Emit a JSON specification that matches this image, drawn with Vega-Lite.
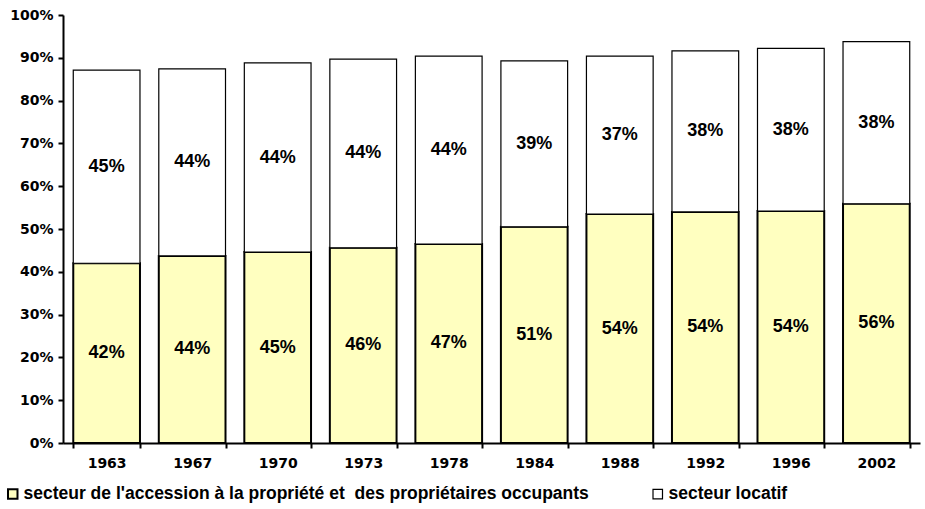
{
  "$schema": "https://vega.github.io/schema/vega-lite/v6.json",
  "width": 857,
  "height": 428,
  "autosize": {"type": "none"},
  "padding": {"left": 63, "top": 15, "right": 5, "bottom": 66},
  "background": "white",
  "config": {
    "font": "Liberation Sans",
    "view": {"stroke": null}
  },
  "data": {
    "values": [
      {"year": "1963", "type": "secteur de l'accession à la propriété et \u00a0des propriétaires occupants", "ord": 1, "value": 0.420},
      {"year": "1963", "type": "secteur locatif", "ord": 2, "value": 0.451},
      {"year": "1967", "type": "secteur de l'accession à la propriété et \u00a0des propriétaires occupants", "ord": 1, "value": 0.437},
      {"year": "1967", "type": "secteur locatif", "ord": 2, "value": 0.437},
      {"year": "1970", "type": "secteur de l'accession à la propriété et \u00a0des propriétaires occupants", "ord": 1, "value": 0.446},
      {"year": "1970", "type": "secteur locatif", "ord": 2, "value": 0.442},
      {"year": "1973", "type": "secteur de l'accession à la propriété et \u00a0des propriétaires occupants", "ord": 1, "value": 0.456},
      {"year": "1973", "type": "secteur locatif", "ord": 2, "value": 0.441},
      {"year": "1978", "type": "secteur de l'accession à la propriété et \u00a0des propriétaires occupants", "ord": 1, "value": 0.465},
      {"year": "1978", "type": "secteur locatif", "ord": 2, "value": 0.439},
      {"year": "1984", "type": "secteur de l'accession à la propriété et \u00a0des propriétaires occupants", "ord": 1, "value": 0.505},
      {"year": "1984", "type": "secteur locatif", "ord": 2, "value": 0.388},
      {"year": "1988", "type": "secteur de l'accession à la propriété et \u00a0des propriétaires occupants", "ord": 1, "value": 0.535},
      {"year": "1988", "type": "secteur locatif", "ord": 2, "value": 0.369},
      {"year": "1992", "type": "secteur de l'accession à la propriété et \u00a0des propriétaires occupants", "ord": 1, "value": 0.540},
      {"year": "1992", "type": "secteur locatif", "ord": 2, "value": 0.376},
      {"year": "1996", "type": "secteur de l'accession à la propriété et \u00a0des propriétaires occupants", "ord": 1, "value": 0.542},
      {"year": "1996", "type": "secteur locatif", "ord": 2, "value": 0.380},
      {"year": "2002", "type": "secteur de l'accession à la propriété et \u00a0des propriétaires occupants", "ord": 1, "value": 0.559},
      {"year": "2002", "type": "secteur locatif", "ord": 2, "value": 0.379}
    ]
  },
  "transform": [
    {"stack": "value", "groupby": ["year"], "sort": [{"field": "ord", "order": "ascending"}], "as": ["y0", "y1"]},
    {"calculate": "(datum.y0 + datum.y1) / 2", "as": "mid"}
  ],
  "encoding": {
    "x": {
      "field": "year",
      "type": "nominal",
      "title": null,
      "scale": {"paddingInner": 0.22, "paddingOuter": 0.12},
      "axis": {
        "labelAngle": 0,
        "labelFont": "DejaVu Sans",
        "labelFontWeight": "bold",
        "labelFontSize": 14,
        "labelColor": "black",
        "labelPadding": 8,
        "domainColor": "black",
        "domainWidth": 2,
        "tickColor": "black",
        "tickWidth": 2,
        "tickSize": 5,
        "tickBand": "extent",
        "grid": false
      }
    }
  },
  "layer": [
    {
      "mark": {"type": "bar", "stroke": "black"},
      "encoding": {
        "y": {
          "field": "y1",
          "type": "quantitative",
          "title": null,
          "scale": {"domain": [0, 1], "nice": false},
          "axis": {
            "values": [0, 0.1, 0.2, 0.3, 0.4, 0.5, 0.6, 0.7, 0.8, 0.9, 1],
            "format": ".0%",
            "labelFont": "DejaVu Sans",
            "labelFontWeight": "bold",
            "labelFontSize": 14,
            "labelColor": "black",
            "labelPadding": 5,
            "domainColor": "black",
            "domainWidth": 2,
            "tickColor": "black",
            "tickWidth": 2,
            "tickSize": 5,
            "grid": false
          }
        },
        "y2": {"field": "y0"},
        "strokeWidth": {
          "field": "type",
          "type": "nominal",
          "scale": {
            "domain": ["secteur de l'accession à la propriété et \u00a0des propriétaires occupants", "secteur locatif"],
            "range": [2, 1.2]
          },
          "legend": null
        },
        "color": {
          "field": "type",
          "type": "nominal",
          "sort": ["secteur de l'accession à la propriété et \u00a0des propriétaires occupants", "secteur locatif"],
          "scale": {
            "domain": ["secteur de l'accession à la propriété et \u00a0des propriétaires occupants", "secteur locatif"],
            "range": ["#FFFFC0", "#FFFFFF"]
          },
          "legend": {
            "title": null,
            "orient": "none",
            "direction": "horizontal",
            "legendX": -59,
            "legendY": 470,
            "symbolType": "square",
            "symbolSize": 90,
            "symbolStrokeColor": "black",
            "symbolStrokeWidth": 1.3,
            "symbolOpacity": 1,
            "labelFont": "Liberation Sans",
            "labelFontWeight": "bold",
            "labelFontSize": 17.5,
            "labelColor": "black",
            "labelOffset": 2,
            "labelLimit": 900,
            "columnPadding": 60
          }
        }
      }
    },
    {
      "mark": {"type": "text", "font": "Liberation Sans", "fontWeight": "bold", "fontSize": 18, "color": "black", "baseline": "middle"},
      "encoding": {
        "y": {"field": "mid", "type": "quantitative"},
        "text": {"field": "value", "type": "quantitative", "format": ".0%"}
      }
    }
  ]
}
